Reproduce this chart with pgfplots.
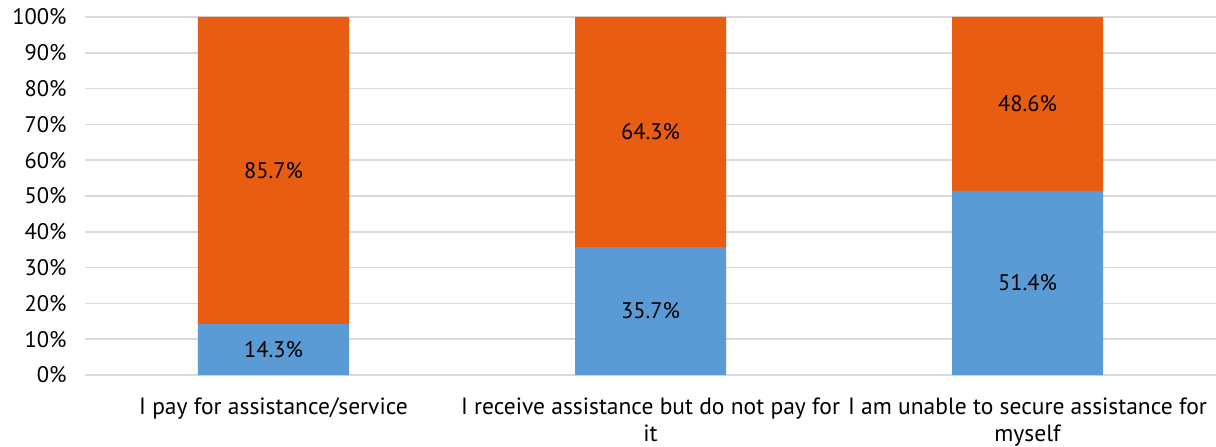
\documentclass[border=0pt]{standalone}
\usepackage{pgfplots}
\pgfplotsset{compat=1.18}
\usepackage{fontspec}
\setmainfont{PT Sans}
\definecolor{cblue}{RGB}{91,155,213}
\definecolor{corange}{RGB}{232,93,18}
\definecolor{cgrid}{RGB}{217,217,217}
\pgfplotsset{base/.style={
  at={(0,0)}, anchor=south west,
  scale only axis, width=1131pt, height=358pt,
  xmin=-0.5, xmax=2.5, ymin=0, ymax=100,
  clip=false}}
\begin{document}
\begin{tikzpicture}[x=1pt,y=1pt]
\begin{axis}[
  base,
  ybar stacked, bar width=151pt,
  axis line style={draw=none},
  tick style={draw=none},
  ytick={0,10,...,100},
  yticklabels={0\%,10\%,20\%,30\%,40\%,50\%,60\%,70\%,80\%,90\%,100\%},
  yticklabel style={font=\fontsize{22.5}{24}\selectfont, xshift=-15pt},
  ymajorgrids, grid style={cgrid, line width=1.5pt},
  xtick={0,1,2},
  xticklabels={{I pay for assistance/service},{I receive assistance but do not pay for\\it},{I am unable to secure assistance for\\myself}},
  xticklabel style={font=\fontsize{23.5}{27}\selectfont, align=center, yshift=-19pt},
]
\addplot[fill=cblue, draw=none] coordinates {(0,14.3) (1,35.7) (2,51.4)};
\addplot[fill=corange, draw=none] coordinates {(0,85.7) (1,64.3) (2,48.6)};
\end{axis}
\begin{axis}[base, hide axis]
\addplot[only marks, mark=none, nodes near coords, point meta=explicit symbolic,
  every node near coord/.append style={anchor=center, font=\fontsize{22.5}{24}\selectfont, text=black}]
  coordinates {(0,7.15)[14.3\%] (1,17.85)[35.7\%] (2,25.7)[51.4\%]
               (0,57.15)[85.7\%] (1,67.85)[64.3\%] (2,75.7)[48.6\%]};
\end{axis}
\pgfresetboundingbox
\useasboundingbox (-85,-72) rectangle (1131,375);
\end{tikzpicture}
\end{document}
